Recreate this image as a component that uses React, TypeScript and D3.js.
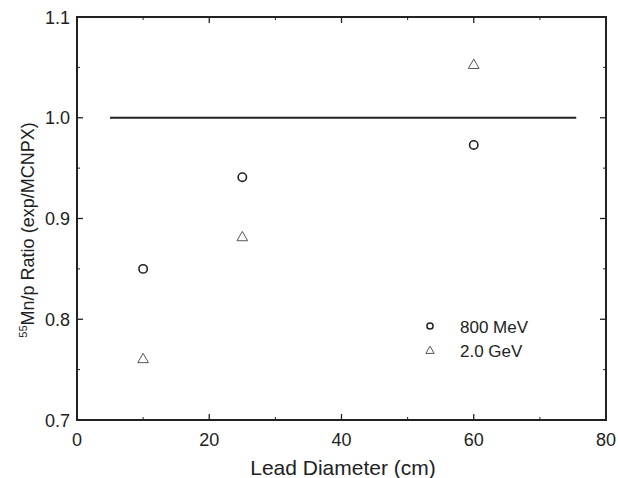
import React, { useEffect, useRef } from "react";
import * as d3 from "d3";

const diameters = [10, 25, 60];
const mev800 = [0.85, 0.941, 0.973];
const gev2 = [0.76, 0.881, 1.052];
const xTicks = [0, 20, 40, 60, 80];
const yTicks = [0.7, 0.8, 0.9, 1.0, 1.1];
const refLine = [
  { x: 5, y: 1.0 },
  { x: 75.5, y: 1.0 },
];

const App = () => {
  const ref = useRef<SVGSVGElement>(null);

  useEffect(() => {
    const svg = d3.select(ref.current);
    svg.selectAll("*").remove();
    const margin = { top: 17, right: 12, bottom: 58, left: 77 };
    const width = 618 - margin.left - margin.right;
    const height = 478 - margin.top - margin.bottom;
    const ink = "#222";

    const x = d3.scaleLinear().domain([0, 80]).range([0, width]);
    const y = d3.scaleLinear().domain([0.7, 1.1]).range([height, 0]);

    const g = svg
      .append("g")
      .attr("transform", `translate(${margin.left},${margin.top})`);

    // frame
    g.append("rect")
      .attr("width", width)
      .attr("height", height)
      .attr("fill", "none")
      .attr("stroke", ink)
      .attr("stroke-width", 2);

    const font = "Liberation Sans, Arial, sans-serif";

    // ticks (inward, on all four sides)
    const xMinor = d3.range(10, 80, 20);
    const yMinor = d3.range(0.75, 1.1, 0.1);
    xTicks.slice(1, -1).forEach((t) => {
      g.append("line").attr("x1", x(t)).attr("x2", x(t)).attr("y1", height).attr("y2", height - 6).attr("stroke", ink).attr("stroke-width", 1.3);
      g.append("line").attr("x1", x(t)).attr("x2", x(t)).attr("y1", 0).attr("y2", 6).attr("stroke", ink).attr("stroke-width", 1.3);
    });
    xMinor.forEach((t) => {
      g.append("line").attr("x1", x(t)).attr("x2", x(t)).attr("y1", height).attr("y2", height - 3).attr("stroke", ink);
      g.append("line").attr("x1", x(t)).attr("x2", x(t)).attr("y1", 0).attr("y2", 3).attr("stroke", ink);
    });
    yTicks.slice(1, -1).forEach((t) => {
      g.append("line").attr("x1", 0).attr("x2", 6).attr("y1", y(t)).attr("y2", y(t)).attr("stroke", ink).attr("stroke-width", 1.3);
      g.append("line").attr("x1", width).attr("x2", width - 6).attr("y1", y(t)).attr("y2", y(t)).attr("stroke", ink).attr("stroke-width", 1.3);
    });
    yMinor.forEach((t) => {
      g.append("line").attr("x1", 0).attr("x2", 3).attr("y1", y(t)).attr("y2", y(t)).attr("stroke", ink);
      g.append("line").attr("x1", width).attr("x2", width - 3).attr("y1", y(t)).attr("y2", y(t)).attr("stroke", ink);
    });

    // tick labels
    g.selectAll(".xl")
      .data(xTicks)
      .enter()
      .append("text")
      .attr("x", (d) => x(d))
      .attr("y", height + 26)
      .attr("text-anchor", "middle")
      .attr("font-family", font)
      .attr("font-size", 18)
      .attr("fill", ink)
      .text((d) => d);

    g.selectAll(".yl")
      .data(yTicks)
      .enter()
      .append("text")
      .attr("x", -7)
      .attr("y", (d) => y(d) + 6.5)
      .attr("text-anchor", "end")
      .attr("font-family", font)
      .attr("font-size", 18)
      .attr("fill", ink)
      .text((d) => d.toFixed(1));

    // axis titles
    g.append("text")
      .attr("x", 343 - margin.left)
      .attr("y", 475 - margin.top)
      .attr("text-anchor", "middle")
      .attr("font-family", font)
      .attr("font-size", 21)
      .attr("fill", ink)
      .text("Lead Diameter (cm)");

    const yt = g
      .append("text")
      .attr("transform", `translate(${34 - margin.left},${230 - margin.top}) rotate(-90)`)
      .attr("text-anchor", "middle")
      .attr("font-family", font)
      .attr("font-size", 18)
      .attr("fill", ink);
    yt.append("tspan").attr("font-size", 11).attr("dy", -7).text("55");
    yt.append("tspan").attr("dy", 7).text("Mn/p Ratio (exp/MCNPX)");

    // reference line at 1.0
    const line = d3
      .line<{ x: number; y: number }>()
      .x((d) => x(d.x))
      .y((d) => y(d.y));
    g.append("path")
      .datum(refLine)
      .attr("d", line)
      .attr("fill", "none")
      .attr("stroke", ink)
      .attr("stroke-width", 1.8);

    // markers
    const circle = d3.symbol().type(d3.symbolCircle).size(55);
    const tri = d3.symbol().type(d3.symbolTriangle).size(50);

    g.selectAll(".c")
      .data(diameters.map((d, i) => ({ x: d, y: mev800[i] })))
      .enter()
      .append("path")
      .attr("d", circle)
      .attr("transform", (d) => `translate(${x(d.x)},${y(d.y)})`)
      .attr("fill", "none")
      .attr("stroke", ink)
      .attr("stroke-width", 1.6);

    g.selectAll(".t")
      .data(diameters.map((d, i) => ({ x: d, y: gev2[i] })))
      .enter()
      .append("path")
      .attr("d", tri)
      .attr("transform", (d) => `translate(${x(d.x)},${y(d.y)})`)
      .attr("fill", "none")
      .attr("stroke", "#555")
      .attr("stroke-width", 1);

    // legend
    const lg = g.append("g").attr("transform", `translate(${430 - margin.left},${326 - margin.top})`);
    lg.append("path").attr("d", d3.symbol().type(d3.symbolCircle).size(30)).attr("fill", "none").attr("stroke", ink).attr("stroke-width", 1.5);
    lg.append("text").attr("x", 30).attr("y", 7).attr("font-family", font).attr("font-size", 17).attr("fill", ink).text("800 MeV");
    lg.append("path").attr("d", d3.symbol().type(d3.symbolTriangle).size(30)).attr("transform", "translate(0,25)").attr("fill", "none").attr("stroke", "#555").attr("stroke-width", 1);
    lg.append("text").attr("x", 30).attr("y", 31).attr("font-family", font).attr("font-size", 17).attr("fill", ink).text("2.0 GeV");
  }, []);

  return (
    <svg
      ref={ref}
      width={618}
      height={478}
      style={{ position: "absolute", left: 0, top: 0, background: "#fff" }}
    />
  );
};

export default App;
